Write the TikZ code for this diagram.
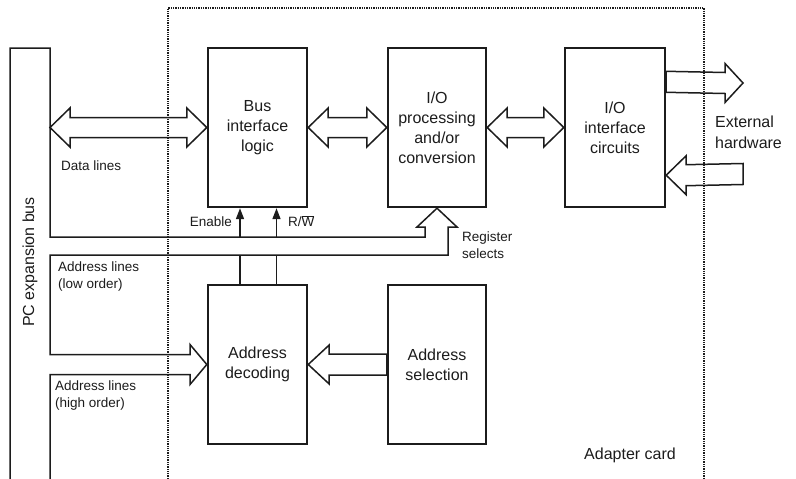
\documentclass[tikz,border=0pt]{standalone}
\usepackage{fontspec}
\setmainfont{Liberation Sans}
\usetikzlibrary{arrows.meta,calc}
\definecolor{inkgray}{HTML}{1C1C1C}

\newcommand{\fatboth}[2]{%
  \draw[fat] (#1) -- ++(20,-19.5) -- ++(0,9.5) -- ($(#2)+(-20,-10)$) -- ++(0,-9.5)
    -- (#2) -- ++(-20,19.5) -- ++(0,-9.5) -- ($(#1)+(20,10)$) -- ++(0,9.5) -- cycle;}
\newcommand{\fatone}[3]{%
  \draw[fat] ($(#1)+(0,-10.5)$) -- ($(#2)+(#3,-10.5)$) -- ($(#2)+(#3,-19.5)$) -- (#2)
    -- ($(#2)+(#3,19.5)$) -- ($(#2)+(#3,10.5)$) -- ($(#1)+(0,10.5)$) -- cycle;}

\tikzset{
  blk/.style={draw=inkgray,line width=2.4pt,minimum width=99pt,minimum height=159pt,
    align=center,text=inkgray,font=\fontsize{16}{20}\selectfont},
  fat/.style={draw=inkgray,line width=1.5pt,fill=white,line join=miter},
  ctl/.style={draw=inkgray,line width=1.5pt},
  lbl/.style={text=inkgray,align=left,inner sep=0pt,font=\fontsize{13.5}{17}\selectfont},
  biglbl/.style={text=inkgray,align=left,inner sep=0pt,font=\fontsize{16}{21}\selectfont},
  cardline/.style={draw=inkgray,line width=1.4pt,dash pattern=on 1.3pt off 1pt},
}

\begin{document}
\begin{tikzpicture}[x=1pt,y=-1pt]
  \useasboundingbox (0,0) rectangle (796,479);

  \node[blk] (bil) at (257.5,127.5) {Bus\\interface\\logic};
  \node[blk,minimum width=98pt] (iop) at (437,127.5) {I/O\\processing\\and/or\\conversion};
  \node[blk,minimum width=100pt] (ioi) at (615,127.5) {I/O\\interface\\circuits};
  \node[blk] (adec) at (257.5,364.5) {Address\\decoding};
  \node[blk,minimum width=98pt] (asel) at (437,364.5) {Address\\selection};

  % expansion bus with address channel
  \draw[fat,fill=none] (10,479) -- (10,48) -- (50,48) -- (50,237) -- (425,237) -- (425,227)
    -- (417,227) -- (iop.south) -- (457,227) -- (448,227) -- (448,255) -- (50,255)
    -- (50,354.5) -- (190,354.5) -- (190,344.5) -- (adec.west) -- (190,384.5)
    -- (190,374.5) -- (50,374.5) -- (50,479);

  \coordinate (bus-data) at (50,127.5);
  \coordinate (ext-out) at (743,83);
  \coordinate (ext-in) at (743,174);
  \coordinate (en-top) at (240,237);
  \coordinate (en-bot) at (240,255);
  \coordinate (rw-top) at (276.5,237);
  \coordinate (rw-bot) at (276.5,255);

  \fatboth{bus-data}{bil.west}
  \fatboth{bil.east}{iop.west}
  \fatboth{iop.east}{ioi.west}
  \fatone{$(ioi.north east)+(0,35)$}{ext-out}{-18}
  \fatone{ext-in}{$(ioi.south east)+(0,-33)$}{20}
  \fatone{asel.west}{adec.east}{21}

  \draw[ctl,-{Triangle[length=11pt,width=8pt]}] (en-top) -- (en-top |- bil.south);
  \draw[ctl,-{Triangle[length=11pt,width=8pt]}] (rw-top) -- (rw-top |- bil.south);
  \draw[ctl] (en-bot) -- (en-bot |- adec.north);
  \draw[ctl] (rw-bot) -- (rw-bot |- adec.north);

  \draw[cardline] (168,479) -- (168,8) -- (704,8) -- (704,479);

  \node[lbl,anchor=west] (l-data) at (61,166) {Data lines};
  \node[lbl,anchor=east] (l-en) at (232,222) {Enable};
  \node[lbl,anchor=west] (l-rw) at (288,221) {R/$\overline{\mbox{W}}$};
  \node[lbl,anchor=west] (l-reg) at (462,245.5) {Register\\selects};
  \node[lbl,anchor=west] (l-low) at (58,276.5) {Address lines\\(low order)};
  \node[lbl,anchor=west] (l-high) at (55,395.5) {Address lines\\(high order)};
  \node[biglbl,anchor=west] (l-ext) at (715,132) {External\\hardware};
  \node[biglbl] (l-card) at (630,455) {Adapter card};
  \node[biglbl,rotate=90] (l-pc) at (30,262) {PC expansion bus};
\end{tikzpicture}
\end{document}
